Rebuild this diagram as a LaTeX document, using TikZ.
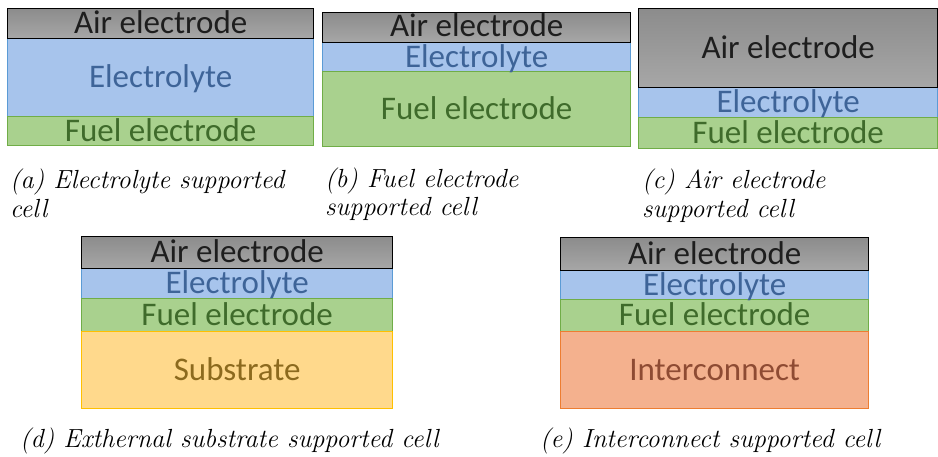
\documentclass[tikz,border=0pt]{standalone}
\usepackage{fontspec}
\newfontfamily\layerfont{Carlito}
\definecolor{airtop}{HTML}{8C8C8C}
\definecolor{airbot}{HTML}{A7A7A7}
\definecolor{airtext}{HTML}{1E1E1E}
\definecolor{elecfill}{HTML}{A7C4EC}
\definecolor{elecdraw}{HTML}{5B9BD5}
\definecolor{electext}{HTML}{3E6498}
\definecolor{fuelfill}{HTML}{A9D18E}
\definecolor{fueldraw}{HTML}{70AD47}
\definecolor{fueltext}{HTML}{3F6B2B}
\definecolor{subfill}{HTML}{FFD98C}
\definecolor{subdraw}{HTML}{FFC000}
\definecolor{subtext}{HTML}{8C6A1E}
\definecolor{intfill}{HTML}{F4B18E}
\definecolor{intdraw}{HTML}{ED7D31}
\definecolor{inttext}{HTML}{8E4B33}
\begin{document}
\begin{tikzpicture}[x=1pt,y=-1pt,
  layer/.style={draw, line width=1.3pt, inner sep=0pt, anchor=north west},
  airlayer/.style={layer, draw=black, top color=airtop, bottom color=airbot},
  eleclayer/.style={layer, draw=elecdraw, fill=elecfill},
  fuellayer/.style={layer, draw=fueldraw, fill=fuelfill},
  sublayer/.style={layer, draw=subdraw, fill=subfill},
  intlayer/.style={layer, draw=intdraw, fill=intfill},
  ltext/.style={inner sep=0pt, anchor=center, text height=20.5pt, text depth=0pt,
    font=\layerfont\fontsize{33}{37}\selectfont},
  caption/.style={anchor=base west, inner sep=0pt,
    font=\fontsize{26.2}{30}\selectfont\itshape}]
\useasboundingbox[fill=white] (0,0) rectangle (938,456);

% (a) Electrolyte supported
\node[eleclayer, minimum width=306pt, minimum height=78pt] (aE) at (7,38) {};
\node[fuellayer, minimum width=306pt, minimum height=29pt] (aF) at (7,116) {};
\node[airlayer, minimum width=306pt, minimum height=30pt] (aA) at (7,8) {};
\node[ltext, text=electext] (aEt) at (aE.center) {Electrolyte};
\node[ltext, text=fueltext] (aFt) at (aF.center) {Fuel electrode};
\node[ltext, text=airtext] (aAt) at (aA.center) {Air electrode};

% (b) Fuel electrode supported
\node[eleclayer, minimum width=308pt, minimum height=29pt] (bE) at (322,42) {};
\node[fuellayer, minimum width=308pt, minimum height=75pt] (bF) at (322,71) {};
\node[airlayer, minimum width=308pt, minimum height=30pt] (bA) at (322,12) {};
\node[ltext, text=electext] (bEt) at (bE.center) {Electrolyte};
\node[ltext, text=fueltext] (bFt) at (bF.center) {Fuel electrode};
\node[ltext, text=airtext, yshift=1.5pt] (bAt) at (bA.center) {Air electrode};

% (c) Air electrode supported
\node[eleclayer, minimum width=299pt, minimum height=30pt] (cE) at (638,87) {};
\node[fuellayer, minimum width=299pt, minimum height=31pt] (cF) at (638,117) {};
\node[airlayer, minimum width=299pt, minimum height=79pt] (cA) at (638,8) {};
\node[ltext, text=electext] (cEt) at (cE.center) {Electrolyte};
\node[ltext, text=fueltext] (cFt) at (cF.center) {Fuel electrode};
\node[ltext, text=airtext] (cAt) at (cA.center) {Air electrode};

% (d) External substrate supported
\node[eleclayer, minimum width=311pt, minimum height=30pt] (dE) at (81,268) {};
\node[fuellayer, minimum width=311pt, minimum height=33pt] (dF) at (81,298) {};
\node[sublayer, minimum width=311pt, minimum height=77pt] (dS) at (81,331) {};
\node[airlayer, minimum width=311pt, minimum height=32pt] (dA) at (81,236) {};
\node[ltext, text=electext] (dEt) at (dE.center) {Electrolyte};
\node[ltext, text=fueltext] (dFt) at (dF.center) {Fuel electrode};
\node[ltext, text=subtext] (dSt) at (dS.center) {Substrate};
\node[ltext, text=airtext] (dAt) at (dA.center) {Air electrode};

% (e) Interconnect supported
\node[eleclayer, minimum width=308pt, minimum height=29pt] (eE) at (560,270) {};
\node[fuellayer, minimum width=308pt, minimum height=32pt] (eF) at (560,299) {};
\node[intlayer, minimum width=308pt, minimum height=77pt] (eI) at (560,331) {};
\node[airlayer, minimum width=308pt, minimum height=33pt] (eA) at (560,237) {};
\node[ltext, text=electext] (eEt) at (eE.center) {Electrolyte};
\node[ltext, text=fueltext] (eFt) at (eF.center) {Fuel electrode};
\node[ltext, text=inttext] (eIt) at (eI.center) {Interconnect};
\node[ltext, text=airtext] (eAt) at (eA.center) {Air electrode};

% captions
\node[caption] (capa1) at (10,188) {(a) Electrolyte supported};
\node[caption] (capa2) at (10,217) {cell};
\node[caption] (capb1) at (325,187) {(b) Fuel electrode};
\node[caption] (capb2) at (325,215) {supported cell};
\node[caption] (capc1) at (642,188) {(c) Air electrode};
\node[caption] (capc2) at (642,217) {supported cell};
\node[caption] (capd) at (20,447) {(d) Exthernal substrate supported cell};
\node[caption] (cape) at (540,447) {(e) Interconnect supported cell};
\end{tikzpicture}
\end{document}
